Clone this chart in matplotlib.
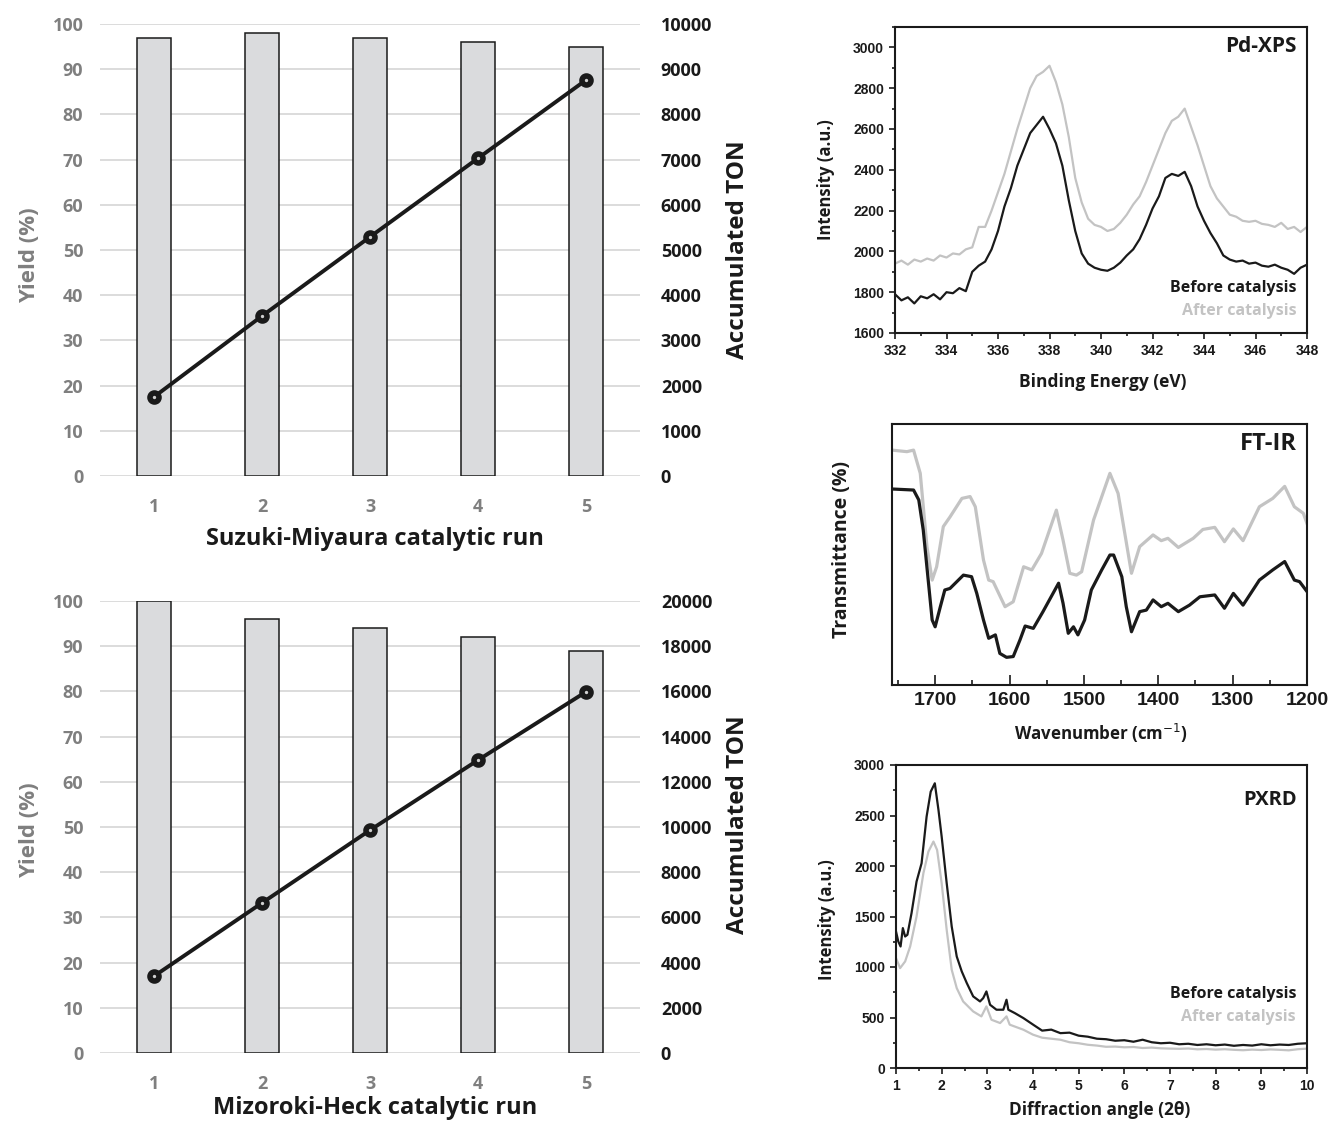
import numpy as np
import matplotlib.pyplot as plt
from matplotlib.ticker import MultipleLocator

# ---- catalytic runs ----
runs = [1, 2, 3, 4, 5]
suzuki_yield = [97, 98, 97, 96, 95]
suzuki_ton = [1750, 3540, 5290, 7030, 8760]
heck_yield = [100, 96, 94, 92, 89]
heck_ton = [3400, 6640, 9860, 12960, 15980]

# ---- Pd-XPS ----
xps_energy = [332.00, 332.25, 332.50, 332.75, 333.00, 333.25, 333.50, 333.75, 334.00, 334.25,
              334.50, 334.75, 335.00, 335.25, 335.50, 335.75, 336.00, 336.25, 336.50, 336.75,
              337.00, 337.25, 337.50, 337.75, 338.00, 338.25, 338.50, 338.75, 339.00, 339.25,
              339.50, 339.75, 340.00, 340.25, 340.50, 340.75, 341.00, 341.25, 341.50, 341.75,
              342.00, 342.25, 342.50, 342.75, 343.00, 343.25, 343.50, 343.75, 344.00, 344.25,
              344.50, 344.75, 345.00, 345.25, 345.50, 345.75, 346.00, 346.25, 346.50, 346.75,
              347.00, 347.25, 347.50, 347.75, 348.00]
xps_before = [1790, 1760, 1775, 1745, 1780, 1770, 1790, 1765, 1800, 1795,
              1820, 1805, 1900, 1930, 1950, 2010, 2100, 2220, 2310, 2420,
              2500, 2580, 2620, 2660, 2600, 2530, 2420, 2250, 2100, 1990,
              1940, 1920, 1910, 1905, 1920, 1945, 1980, 2010, 2060, 2130,
              2210, 2270, 2360, 2380, 2370, 2390, 2320, 2220, 2150, 2090,
              2040, 1980, 1960, 1950, 1955, 1940, 1945, 1930, 1925, 1935,
              1920, 1910, 1890, 1920, 1935]
xps_after = [1940, 1955, 1935, 1960, 1950, 1965, 1955, 1980, 1970, 1990,
             1985, 2010, 2020, 2120, 2120, 2200, 2290, 2380, 2490, 2600,
             2700, 2800, 2860, 2880, 2910, 2830, 2720, 2560, 2360, 2240,
             2160, 2130, 2120, 2100, 2110, 2140, 2180, 2230, 2270, 2340,
             2420, 2500, 2580, 2640, 2660, 2700, 2610, 2520, 2420, 2320,
             2260, 2220, 2180, 2170, 2150, 2145, 2150, 2135, 2130, 2120,
             2140, 2110, 2120, 2095, 2120]

# ---- FT-IR (arbitrary transmittance scale 0-100) ----
ir_wn_before = [1758, 1729, 1722, 1716, 1704, 1700, 1693, 1687, 1680, 1662, 1651, 1644, 1635,
                1628, 1619, 1613, 1604, 1595, 1586, 1579, 1568, 1555, 1534, 1528, 1521, 1514,
                1508, 1499, 1490, 1476, 1465, 1460, 1449, 1443, 1436, 1425, 1416, 1407, 1396,
                1387, 1373, 1358, 1344, 1324, 1311, 1299, 1286, 1264, 1246, 1230, 1217, 1210, 1200]
ir_before = [75.1, 74.7, 70.9, 59.4, 24.9, 22.3, 30.0, 36.4, 37.0, 42.1, 41.5, 35.1, 24.9,
             17.9, 19.2, 12.1, 10.6, 10.9, 17.2, 22.6, 21.7, 28.1, 39.0, 31.3, 19.8, 22.3,
             19.2, 24.9, 36.4, 44.1, 49.8, 49.8, 41.5, 30.0, 20.4, 28.1, 28.7, 32.6, 30.0,
             31.3, 28.1, 30.6, 33.8, 34.5, 29.4, 35.1, 30.6, 40.2, 44.1, 47.3, 40.2, 39.6, 35.8]
ir_wn_after = [1758, 1738, 1729, 1720, 1711, 1704, 1698, 1689, 1680, 1664, 1653, 1646, 1635,
               1628, 1622, 1606, 1595, 1581, 1570, 1557, 1537, 1528, 1519, 1510, 1503, 1487,
               1465, 1454, 1445, 1436, 1425, 1407, 1396, 1387, 1373, 1353, 1340, 1324, 1311,
               1299, 1286, 1264, 1246, 1230, 1217, 1205, 1200]
ir_after = [90.0, 89.4, 90.0, 81.1, 53.0, 40.2, 45.3, 60.7, 64.4, 71.5, 72.2, 68.3, 47.9,
            40.2, 39.6, 30.0, 31.9, 45.3, 44.1, 50.4, 67.0, 55.5, 42.8, 42.1, 43.4, 63.2,
            81.1, 73.4, 58.1, 42.8, 53.0, 57.5, 55.3, 56.2, 52.7, 56.2, 59.6, 60.4, 54.9,
            59.8, 55.3, 68.3, 71.5, 76.1, 68.3, 65.8, 61.9]

# ---- PXRD ----
xrd_angle_before = [1.00, 1.05, 1.10, 1.15, 1.20, 1.25, 1.34, 1.45, 1.56, 1.67, 1.76, 1.85, 1.93,
                    2.00, 2.11, 2.22, 2.33, 2.44, 2.55, 2.69, 2.84, 2.91, 2.98, 3.06, 3.20, 3.35,
                    3.42, 3.46, 3.60, 3.79, 4.0, 4.2, 4.4, 4.6, 4.8, 5.0, 5.2, 5.4, 5.6, 5.8,
                    6.0, 6.2, 6.4, 6.6, 6.8, 7.0, 7.2, 7.4, 7.6, 7.8, 8.0, 8.2, 8.4, 8.6, 8.8,
                    9.0, 9.2, 9.4, 9.6, 9.8, 10.0]
xrd_before = [1352, 1253, 1203, 1385, 1302, 1319, 1533, 1846, 2027, 2489, 2736, 2819, 2555,
              2291, 1830, 1401, 1104, 956, 841, 709, 659, 692, 758, 626, 577, 577,
              676, 577, 544, 494, 430, 370, 380, 345, 350, 320, 310, 290, 285, 270,
              275, 260, 280, 255, 245, 250, 235, 240, 228, 235, 225, 232, 220, 228, 222,
              235, 225, 232, 228, 240, 245]
xrd_angle_after = [1.00, 1.09, 1.20, 1.31, 1.45, 1.60, 1.71, 1.82, 1.90, 2.00, 2.11, 2.22, 2.33,
                   2.47, 2.69, 2.87, 2.98, 3.09, 3.28, 3.42, 3.49, 3.79, 4.0, 4.2, 4.4, 4.6,
                   4.8, 5.0, 5.2, 5.4, 5.6, 5.8, 6.0, 6.2, 6.4, 6.6, 6.8, 7.0, 7.2, 7.4, 7.6,
                   7.8, 8.0, 8.2, 8.4, 8.6, 8.8, 9.0, 9.2, 9.4, 9.6, 9.8, 10.0]
xrd_after = [1088, 989, 1055, 1203, 1500, 1929, 2143, 2242, 2159, 1830, 1368, 973, 791,
             659, 560, 511, 610, 478, 445, 511, 429, 379, 330, 300, 290, 280,
             255, 245, 230, 222, 210, 212, 205, 208, 198, 202, 195, 192, 190, 193, 185,
             188, 182, 186, 180, 176, 182, 178, 184, 180, 175, 186, 192]

W, H = 1328, 1124
GREY_TXT = '#7f7f7f'
BAR_FC = '#dadbdd'
AFTER_C = '#c3c3c3'
DARK = '#1a1a1a'
TXT_FONT = 'Open Sans'
TICK_FONT = 'Liberation Sans'


def box(x0, y0, x1, y1):
    # pixel box (left, top, right, bottom) -> figure fraction rect
    return [x0 / W, 1 - y1 / H, (x1 - x0) / W, (y1 - y0) / H]


def ftext(x, y, s, **kw):
    fig.text(x / W, 1 - y / H, s, **kw)


fig = plt.figure(figsize=(W / 100, H / 100), dpi=100)


def run_panel(rect, yields, ton, ton_max, ton_step, xlabel, ylab_y, xlab_y):
    ax = fig.add_axes(rect)
    ax2 = ax.twinx()
    ax.bar(runs, yields, width=0.31, color=BAR_FC, edgecolor=DARK, linewidth=1.1, zorder=2)
    ax.set_xlim(0.5, 5.5)
    ax.set_ylim(0, 100)
    ax.set_yticks(range(0, 101, 10))
    ax.set_xticks(runs)
    ax.grid(axis='y', color='#d9d9d9', linewidth=1.3)
    ax.set_axisbelow(True)
    for a in (ax, ax2):
        for s in a.spines.values():
            s.set_visible(False)
        a.tick_params(length=0)
    ax.tick_params(axis='y', pad=12, colors=GREY_TXT)
    ax.tick_params(axis='x', pad=16, colors=GREY_TXT)
    for lab in ax.get_xticklabels() + ax.get_yticklabels():
        lab.set_fontfamily(TXT_FONT)
        lab.set_fontweight('bold')
        lab.set_fontsize(13)

    ax2.plot(runs, ton, color=DARK, linewidth=2.8, marker='o', markersize=6.5,
             markerfacecolor='#d0d0d0', markeredgecolor=DARK, markeredgewidth=4, zorder=3)
    ax2.set_ylim(0, ton_max)
    ax2.set_yticks(np.arange(0, ton_max + 1, ton_step))
    ax2.tick_params(axis='y', pad=15, colors=DARK)
    for lab in ax2.get_yticklabels():
        lab.set_fontfamily(TXT_FONT)
        lab.set_fontweight('bold')
        lab.set_fontsize(13)

    ftext(30, ylab_y, 'Yield (%)', rotation=90, ha='center', va='center', color=GREY_TXT,
          family=TXT_FONT, weight='bold', fontsize=16)
    ftext(738, ylab_y - 5, 'Accumulated TON', rotation=90, ha='center', va='center', color=DARK,
          family=TXT_FONT, weight='bold', fontsize=17.5)
    ftext(375, xlab_y, xlabel, ha='center', va='center', color=DARK,
          family=TXT_FONT, weight='bold', fontsize=17)


run_panel(box(100, 24, 640, 476), suzuki_yield, suzuki_ton, 10000, 1000,
          'Suzuki-Miyaura catalytic run', 255, 539)
run_panel(box(100, 601, 640, 1053), heck_yield, heck_ton, 20000, 2000,
          'Mizoroki-Heck catalytic run', 830, 1108)


def spectrum_axes(rect, direction='out'):
    ax = fig.add_axes(rect)
    for s in ax.spines.values():
        s.set_linewidth(1.5)
        s.set_color(DARK)
    ax.tick_params(which='both', direction=direction, width=1.2, colors=DARK)
    ax.tick_params(which='major', length=4.5)
    ax.tick_params(which='minor', length=2.5)
    return ax


def style_ticks(ax, size):
    for lab in ax.get_xticklabels() + ax.get_yticklabels():
        lab.set_fontfamily(TICK_FONT)
        lab.set_fontweight('bold')
        lab.set_fontsize(size)


# Pd-XPS
ax = spectrum_axes(box(895, 27, 1307, 333))
ax.plot(xps_energy, xps_after, color=AFTER_C, linewidth=1.6)
ax.plot(xps_energy, xps_before, color=DARK, linewidth=1.6)
ax.set_xlim(332, 348)
ax.set_ylim(1600, 3100)
ax.set_xticks(range(332, 349, 2))
ax.set_yticks(range(1600, 3001, 200))
ax.xaxis.set_minor_locator(MultipleLocator(1))
ax.yaxis.set_minor_locator(MultipleLocator(100))
style_ticks(ax, 10)
ax.text(0.975, 0.935, 'Pd-XPS', transform=ax.transAxes, ha='right', va='center',
        family=TXT_FONT, weight='bold', fontsize=15, color=DARK)
ftext(1297, 288, 'Before catalysis', ha='right', va='center', family=TXT_FONT, weight='bold',
      fontsize=11.5, color=DARK)
ftext(1297, 311, 'After catalysis', ha='right', va='center', family=TXT_FONT, weight='bold',
      fontsize=11.5, color=AFTER_C)
ftext(826, 180, 'Intensity (a.u.)', rotation=90, ha='center', va='center', family=TXT_FONT,
      weight='bold', fontsize=12, color=DARK)
ftext(1103, 382, 'Binding Energy (eV)', ha='center', va='center', family=TXT_FONT,
      weight='bold', fontsize=12.5, color=DARK)

# FT-IR
ax = spectrum_axes(box(892, 424, 1307, 685), direction='in')
ax.plot(ir_wn_after, ir_after, color=AFTER_C, linewidth=2.3)
ax.plot(ir_wn_before, ir_before, color=DARK, linewidth=2.3)
ax.set_xlim(1758, 1200)
ax.set_ylim(0, 100)
ax.set_xticks(range(1700, 1199, -100))
ax.xaxis.set_minor_locator(MultipleLocator(50))
ax.set_yticks([])
ax.tick_params(axis='x', which='major', length=7, pad=5)
ax.tick_params(axis='x', which='minor', length=3.5)
style_ticks(ax, 14)
ax.text(0.975, 0.925, 'FT-IR', transform=ax.transAxes, ha='right', va='center',
        family=TXT_FONT, weight='bold', fontsize=17, color=DARK)
ftext(842, 550, 'Transmittance (%)', rotation=90, ha='center', va='center', family=TXT_FONT,
      weight='bold', fontsize=14, color=DARK)
ftext(1101, 733, 'Wavenumber (cm$^{-1}$)', ha='center', va='center', family=TXT_FONT,
      weight='bold', fontsize=12.2, color=DARK)

# PXRD
ax = spectrum_axes(box(896, 765, 1307, 1068))
ax.plot(xrd_angle_after, xrd_after, color=AFTER_C, linewidth=1.6)
ax.plot(xrd_angle_before, xrd_before, color=DARK, linewidth=1.6)
ax.set_xlim(1, 10)
ax.set_ylim(0, 3000)
ax.set_xticks(range(1, 11))
ax.set_yticks(range(0, 3001, 500))
ax.xaxis.set_minor_locator(MultipleLocator(0.5))
ax.yaxis.set_minor_locator(MultipleLocator(250))
style_ticks(ax, 10)
ax.text(0.975, 0.885, 'PXRD', transform=ax.transAxes, ha='right', va='center',
        family=TXT_FONT, weight='bold', fontsize=14.5, color=DARK)
ftext(1296, 994, 'Before catalysis', ha='right', va='center', family=TXT_FONT, weight='bold',
      fontsize=11.5, color=DARK)
ftext(1296, 1017, 'After catalysis', ha='right', va='center', family=TXT_FONT, weight='bold',
      fontsize=11.5, color=AFTER_C)
ftext(827, 920, 'Intensity (a.u.)', rotation=90, ha='center', va='center', family=TXT_FONT,
      weight='bold', fontsize=12, color=DARK)
ftext(1100, 1110, 'Diffraction angle (2\u03b8)', ha='center', va='center', family=TXT_FONT,
      weight='bold', fontsize=12.4, color=DARK)

fig.savefig('out.png', dpi=100)
